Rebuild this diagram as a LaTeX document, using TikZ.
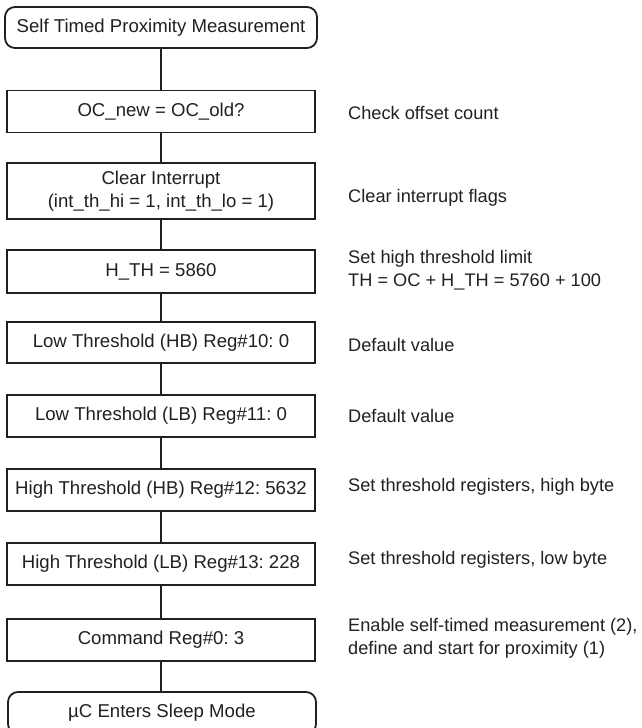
\documentclass[tikz,border=0pt]{standalone}
\usepackage{fontspec}
\setmainfont{Liberation Sans}
\frenchspacing
\definecolor{ink}{HTML}{231F20}
\begin{document}
\begin{tikzpicture}[x=1pt,y=-1pt,
  every node/.style={font=\fontsize{18.6}{23.5}\selectfont, text=ink},
  stepbox/.style={draw=ink, line width=1.8pt, minimum width=308pt, minimum height=42pt, inner sep=0pt, align=center, anchor=center},
  termbox/.style={stepbox, rounded corners=10pt, minimum width=312pt, minimum height=41pt},
  note/.style={anchor=west, align=left, inner sep=0pt, font=\fontsize{18.2}{23.5}\selectfont},
  link/.style={draw=ink, line width=1.8pt}]
\useasboundingbox (0,0) rectangle (642,728);
\node[termbox] (s) at (161,27.5) {Self Timed Proximity Measurement};
\node[stepbox] (b1) at (161,111.5) {OC\_new = OC\_old?};
\node[stepbox, minimum height=56pt] (b2) at (161,191) {Clear Interrupt\\(int\_th\_hi = 1, int\_th\_lo = 1)};
\node[stepbox, minimum height=43pt] (b3) at (161,271.5) {H\_TH = 5860};
\node[stepbox, minimum height=41pt] (b4) at (161,342.5) {Low Threshold (HB) Reg\#10: 0};
\node[stepbox] (b5) at (161,416) {Low Threshold (LB) Reg\#11: 0};
\node[stepbox] (b6) at (161,490) {High Threshold (HB) Reg\#12: 5632};
\node[stepbox] (b7) at (161,564) {High Threshold (LB) Reg\#13: 228};
\node[stepbox] (b8) at (161,640) {Command Reg\#0: 3};
\node[termbox, minimum width=308pt, minimum height=42pt] (e) at (162,713) {µC Enters Sleep Mode};
\draw[link] (s) -- (b1);
\draw[link] (b1) -- (b2);
\draw[link] (b2) -- (b3);
\draw[link] (b3) -- (b4);
\draw[link] (b4) -- (b5);
\draw[link] (b5) -- (b6);
\draw[link] (b6) -- (b7);
\draw[link] (b7) -- (b8);
\draw[link] (b8.south) -- (b8.south |- e.north);
\node[note] (c1) at (348,113) {Check offset count};
\node[note] (c2) at (348,198) {Clear interrupt flags};
\node[note] (c3) at (348,270) {Set high threshold limit\\TH = OC + H\_TH = 5760 + 100};
\node[note] (c4) at (348,345) {Default value};
\node[note] (c5) at (348,416) {Default value};
\node[note] (c6) at (348,487) {Set threshold registers, high byte};
\node[note] (c7) at (348,560) {Set threshold registers, low byte};
\node[note] (c8) at (348,638.5) {Enable self-timed measurement (2),\\define and start for proximity (1)};
\end{tikzpicture}
\end{document}
